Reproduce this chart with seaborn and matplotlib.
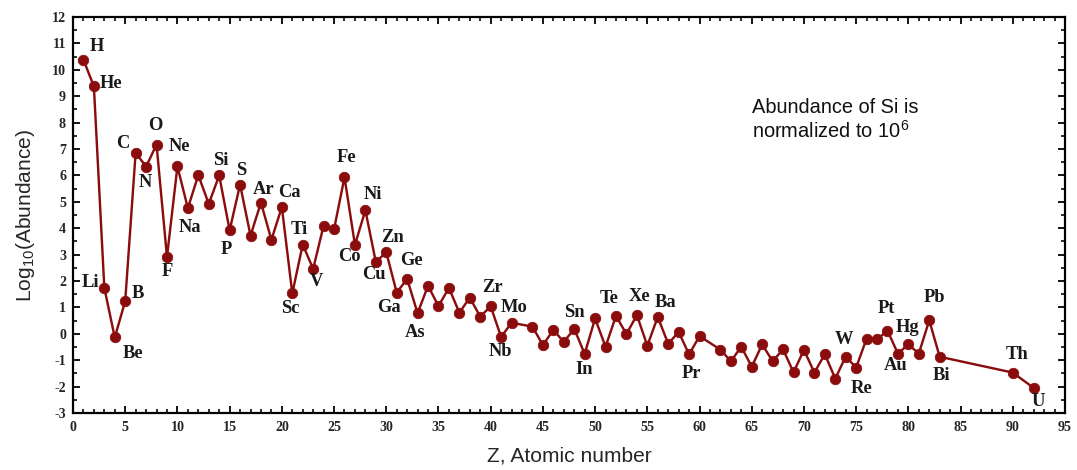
import numpy as np
import pandas as pd
import matplotlib
matplotlib.use("Agg")
import matplotlib.pyplot as plt
from matplotlib.ticker import MultipleLocator
import seaborn as sns

# Solar-system elemental abundances, log10 scale (Si = 10^6)
atomic_number = [
    1, 2, 3, 4, 5, 6, 7, 8, 9, 10,
    11, 12, 13, 14, 15, 16, 17, 18, 19, 20,
    21, 22, 23, 24, 25, 26, 27, 28, 29, 30,
    31, 32, 33, 34, 35, 36, 37, 38, 39, 40,
    41, 42, 44, 45, 46, 47, 48, 49, 50,
    51, 52, 53, 54, 55, 56, 57, 58, 59, 60,
    62, 63, 64, 65, 66, 67, 68, 69, 70,
    71, 72, 73, 74, 75, 76, 77, 78, 79, 80,
    81, 82, 83, 90, 92,
]
symbol = [
    "H", "He", "Li", "Be", "B", "C", "N", "O", "F", "Ne",
    "Na", "Mg", "Al", "Si", "P", "S", "Cl", "Ar", "K", "Ca",
    "Sc", "Ti", "V", "Cr", "Mn", "Fe", "Co", "Ni", "Cu", "Zn",
    "Ga", "Ge", "As", "Se", "Br", "Kr", "Rb", "Sr", "Y", "Zr",
    "Nb", "Mo", "Ru", "Rh", "Pd", "Ag", "Cd", "In", "Sn",
    "Sb", "Te", "I", "Xe", "Cs", "Ba", "La", "Ce", "Pr", "Nd",
    "Sm", "Eu", "Gd", "Tb", "Dy", "Ho", "Er", "Tm", "Yb",
    "Lu", "Hf", "Ta", "W", "Re", "Os", "Ir", "Pt", "Au", "Hg",
    "Tl", "Pb", "Bi", "Th", "U",
]
log_abundance = [
    10.38, 9.37, 1.74, -0.14, 1.24, 6.86, 6.33, 7.17, 2.91, 6.34,
    4.76, 6.01, 4.92, 6.00, 3.92, 5.65, 3.72, 4.97, 3.56, 4.80,
    1.53, 3.38, 2.46, 4.10, 3.96, 5.93, 3.37, 4.68, 2.72, 3.09,
    1.56, 2.08, 0.78, 1.82, 1.05, 1.74, 0.80, 1.37, 0.65, 1.04,
    -0.12, 0.42, 0.27, -0.43, 0.15, -0.31, 0.19, -0.76, 0.58,
    -0.49, 0.68, -0.01, 0.71, -0.45, 0.64, -0.38, 0.07, -0.78, -0.09,
    -0.60, -1.04, -0.49, -1.25, -0.40, -1.04, -0.59, -1.46, -0.61,
    -1.47, -0.77, -1.70, -0.86, -1.28, -0.18, -0.21, 0.12, -0.75, -0.40,
    -0.75, 0.51, -0.87, -1.47, -2.05,
]

# Element labels drawn on the curve, with their text offsets (points)
labeled = ["H", "He", "Li", "Be", "B", "C", "N", "O", "F", "Ne", "Na", "Si",
           "P", "S", "Ar", "Ca", "Sc", "Ti", "V", "Fe", "Co", "Ni", "Cu", "Zn",
           "Ga", "Ge", "As", "Zr", "Nb", "Mo", "Sn", "In", "Te", "Xe", "Ba",
           "Pr", "W", "Re", "Pt", "Au", "Hg", "Pb", "Bi", "Th", "U"]
label_dx = [13, 17, -14, 18, 13, -13, -1, -1, 0, 2, 2, 2,
            -3, 1, 3, 8, -2, -3, 3, 2, -5, 7, -2, 6,
            -8, 4, -2, 2, -1, 3, -21, 0, -7, 3, 8,
            2, -2, 5, -1, -2, -1, 5, 2, 4, 5]
label_dy = [13, 3, 5, -16, 8, 9, -16, 19, -15, 20, -19, 15,
            -19, 14, 13, 15, -15, 15, -13, 20, -12, 16, -13, 15,
            -15, 18, -19, 19, -15, 15, 6, -16, 17, 19, 14,
            -19, 17, -21, 22, -12, 17, 23, -19, 18, -14]

x_ticks = list(range(0, 96, 5))
y_ticks = list(range(-3, 13))

df = pd.DataFrame({"Z": atomic_number, "logA": log_abundance, "el": symbol})

sns.set_style("ticks")
plt.rcParams["font.family"] = ["Liberation Sans", "DejaVu Sans"]
plt.rcParams["mathtext.fontset"] = "custom"
plt.rcParams["mathtext.rm"] = "Liberation Sans"
plt.rcParams["mathtext.it"] = "Liberation Sans:italic"
plt.rcParams["axes.unicode_minus"] = False

LINE = "#8a0c0c"

fig = plt.figure(figsize=(1077 / 72, 470 / 72), dpi=72)
ax = fig.add_axes([73 / 1077, 1 - 413 / 470, (1065 - 73) / 1077, (413 - 17) / 470])

sns.lineplot(data=df, x="Z", y="logA", ax=ax, color=LINE, linewidth=2.4,
             marker="o", markersize=10.5, markeredgecolor=LINE,
             markerfacecolor=LINE, sort=True)

for el, dx, dy in zip(labeled, label_dx, label_dy):
    row = df[df["el"] == el].iloc[0]
    ax.annotate(el, (row["Z"], row["logA"]), xytext=(dx, dy),
                textcoords="offset points", ha="center", va="center",
                fontsize=18.5, fontweight="bold", family="Liberation Serif",
                color="#1a1a1a")

ax.set_xlim(0, 95)
ax.set_ylim(-3, 12)
ax.set_xticks(x_ticks)
ax.set_yticks(y_ticks)
ax.xaxis.set_minor_locator(MultipleLocator(1))
ax.yaxis.set_minor_locator(MultipleLocator(0.5))

for side in ["top", "right", "bottom", "left"]:
    ax.spines[side].set_visible(True)
    ax.spines[side].set_linewidth(2.2)
    ax.spines[side].set_color("black")

ax.tick_params(which="both", direction="in", top=True, right=True,
               color="black")
ax.tick_params(which="major", length=7, width=1.8, labelsize=14)
ax.tick_params(which="minor", length=4, width=1.6)
ax.tick_params(axis="x", which="major", pad=8)
ax.tick_params(axis="y", which="major", pad=7)
for lab in ax.get_xticklabels() + ax.get_yticklabels():
    lab.set_family("Liberation Serif")
    lab.set_fontweight("bold")
    lab.set_fontsize(14)

ax.set_xlabel("Z, Atomic number", fontsize=21, labelpad=13)
ax.set_ylabel(r"Log$_{10}$(Abundance)", fontsize=21, labelpad=15)
ax.grid(False)

fig.text(752 / 1077, 1 - 98 / 470,
         "Abundance of Si is\n" + r"normalized to 10$^{6}$",
         fontsize=20, ha="left", va="top", linespacing=1.15, color="#111111")

fig.savefig("out.png", dpi=72, facecolor="white")
